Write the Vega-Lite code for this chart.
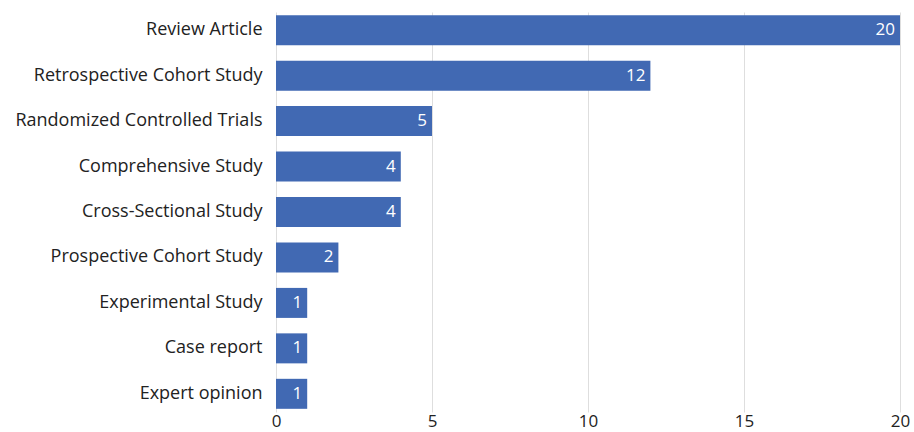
{
  "$schema": "https://vega.github.io/schema/vega-lite/v6.json",
  "width": 624,
  "height": 400,
  "autosize": "none",
  "padding": {"left": 276, "top": 12, "right": 14, "bottom": 20},
  "background": "white",
  "config": {"view": {"stroke": null}, "font": "Open Sans"},
  "data": {"values": [
    {"type": "Review Article", "count": 20},
    {"type": "Retrospective Cohort Study", "count": 12},
    {"type": "Randomized Controlled Trials", "count": 5},
    {"type": "Comprehensive Study", "count": 4},
    {"type": "Cross-Sectional Study", "count": 4},
    {"type": "Prospective Cohort Study", "count": 2},
    {"type": "Experimental Study", "count": 1},
    {"type": "Case report", "count": 1},
    {"type": "Expert opinion", "count": 1}
  ]},
  "encoding": {
    "y": {"field": "type", "type": "nominal", "sort": null,
      "scale": {"paddingInner": 0.34, "paddingOuter": 0.07},
      "axis": {"title": null, "domain": false, "ticks": false, "labelFontSize": 18, "labelColor": "#222", "labelPadding": 14, "labelLimit": 300}},
    "x": {"field": "count", "type": "quantitative",
      "scale": {"domain": [0, 20], "nice": false},
      "axis": {"title": null, "values": [0, 5, 10, 15, 20], "domain": false, "ticks": false, "grid": true, "gridColor": "#dedede", "labelFontSize": 17, "labelColor": "#222", "labelPadding": 1, "labelFlush": false}}
  },
  "layer": [
    {"mark": {"type": "bar", "color": "#4169b3"}},
    {"mark": {"type": "text", "align": "right", "dx": -5, "color": "white", "fontSize": 17, "baseline": "middle"},
     "encoding": {"text": {"field": "count", "type": "quantitative"}}}
  ]
}
